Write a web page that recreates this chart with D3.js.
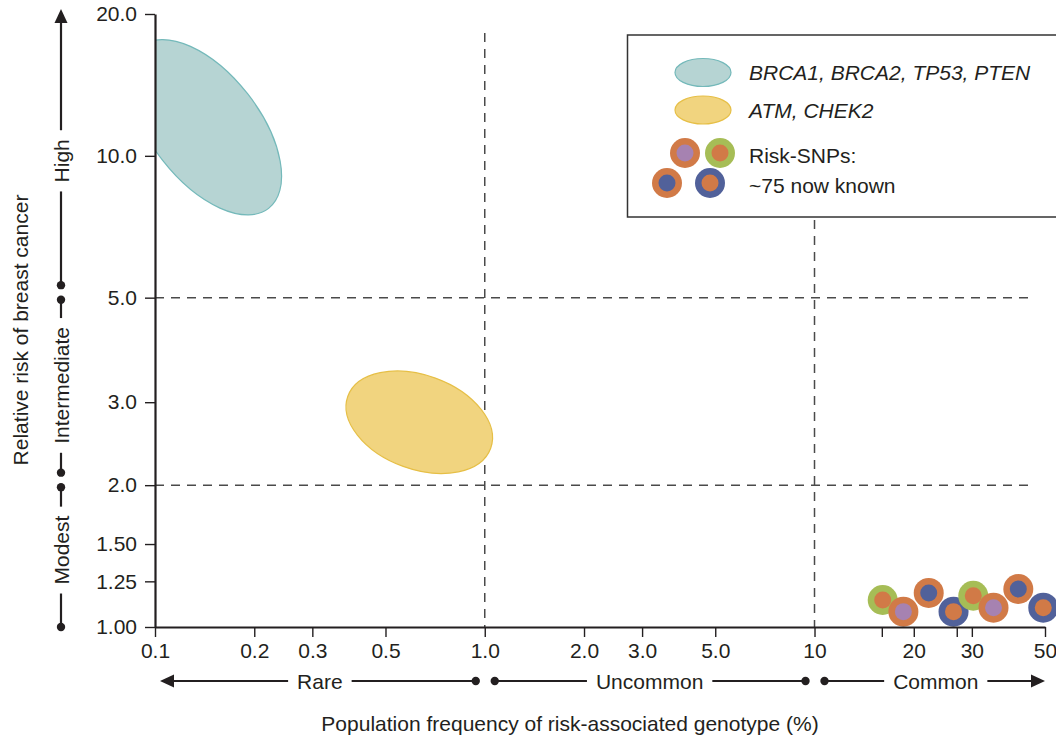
<!DOCTYPE html>
<html>
<head>
<meta charset="utf-8">
<script src="https://cdn.jsdelivr.net/npm/d3@7"></script>
<style>
  html, body { margin: 0; padding: 0; background: #fff; }
  svg { display: block; font-family: "Liberation Sans", Arial, Helvetica, sans-serif; }
</style>
</head>
<body>
<svg id="chart" width="1056" height="739"></svg>
<script>
// ---------------- DATA ----------------
const xTickValues = [0.1, 0.2, 0.3, 0.5, 1, 2, 3, 5, 10, 16, 20, 27, 30, 50];
const xTickLabels = ["0.1", "0.2", "0.3", "0.5", "1.0", "2.0", "3.0", "5.0", "10", "", "20", "", "30", "50"];
const yTickValues = [1, 1.25, 1.5, 2, 3, 5, 10, 20];
const yTickLabels = ["1.00", "1.25", "1.50", "2.0", "3.0", "5.0", "10.0", "20.0"];

const xTitle = "Population frequency of risk-associated genotype (%)";
const yTitle = "Relative risk of breast cancer";

// frequency categories (x) and risk categories (y)
const freqCategories = ["Rare", "Uncommon", "Common"];
const freqBounds = [[0.1, 1], [1, 10], [10, 50]];
const riskCategories = ["Modest", "Intermediate", "High"];
const riskBounds = [[1, 2], [2, 5], [5, 20]];

// gene groups (ellipse centres: frequency %, relative risk)
const geneGroups = ["BRCA1, BRCA2, TP53, PTEN", "ATM, CHEK2"];
const geneFreq = [0.142, 0.633];
const geneRisk = [11.5, 2.72];

// risk SNPs
const snpFreq = [16.1, 18.6, 22.2, 26.4, 30.3, 34.9, 41.5, 49.4];
const snpRisk = [1.141, 1.078, 1.181, 1.078, 1.165, 1.099, 1.204, 1.099];
const snpOuter = ["green", "orange", "orange", "blue", "green", "orange", "orange", "blue"];
const snpInner = ["orange", "purple", "blue", "orange", "orange", "purple", "blue", "orange"];

const snpLegendLines = ["Risk-SNPs:", "~75 now known"];
const snpLegendOuter = ["orange", "green", "orange", "blue"];
const snpLegendInner = ["purple", "orange", "blue", "orange"];

// ---------------- STYLE ----------------
const ink = "#231f20";
const palette = { orange: "#d17a47", purple: "#a682b1", green: "#a6bd56", blue: "#51619a" };
const geneFill = ["#b6d4d3", "#f1d47f"];
const geneStroke = ["#74b9ba", "#e6bf46"];
const geneShape = [ { rx: 103, ry: 54, rot: 52 }, { rx: 76, ry: 47, rot: 20 } ];
const fontSize = 21;

const svg = d3.select("#chart");

const x = d3.scaleLog().domain([0.1, 50]).range([155, 1045]);
const y = d3.scaleLog().domain([1, 20]).range([627, 14]);

// clip
svg.append("defs").append("clipPath").attr("id", "plotclip")
  .append("rect").attr("x", x(0.1)).attr("y", 0).attr("width", 1056 - x(0.1)).attr("height", y(1));

// ---------------- DASHED GRID ----------------
const grid = svg.append("g").attr("stroke", "#4a4a4a").attr("stroke-width", 1.5).attr("stroke-dasharray", "9,7");
grid.append("line").attr("x1", x(1)).attr("x2", x(1)).attr("y1", 33).attr("y2", y(1));
grid.append("line").attr("x1", x(10)).attr("x2", x(10)).attr("y1", 220).attr("y2", y(1));
[5, 2].forEach(v => {
  grid.append("line").attr("x1", x(0.1)).attr("x2", 1030).attr("y1", y(v)).attr("y2", y(v));
});

// ---------------- ELLIPSES ----------------
const eg = svg.append("g").attr("clip-path", "url(#plotclip)");
geneGroups.forEach((g, i) => {
  eg.append("ellipse")
    .attr("transform", `translate(${x(geneFreq[i])},${y(geneRisk[i])}) rotate(${geneShape[i].rot})`)
    .attr("rx", geneShape[i].rx).attr("ry", geneShape[i].ry)
    .attr("fill", geneFill[i]).attr("stroke", geneStroke[i]).attr("stroke-width", 1.2);
});

// ---------------- SNPs ----------------
const sg = svg.append("g");
snpFreq.forEach((f, i) => {
  const cx = x(f), cy = y(snpRisk[i]);
  sg.append("circle").attr("cx", cx).attr("cy", cy).attr("r", 15).attr("fill", palette[snpOuter[i]]);
  sg.append("circle").attr("cx", cx).attr("cy", cy).attr("r", 8.5).attr("fill", palette[snpInner[i]]);
});

// ---------------- AXES ----------------
const xAxis = d3.axisBottom(x).tickValues(xTickValues)
  .tickFormat((d, i) => xTickLabels[i]).tickSize(10).tickSizeOuter(0).tickPadding(6);
const yAxis = d3.axisLeft(y).tickValues(yTickValues)
  .tickFormat((d, i) => yTickLabels[i]).tickSize(10).tickSizeOuter(0).tickPadding(8);

const gx = svg.append("g").attr("transform", `translate(0,${y(1)})`).call(xAxis);
const gy = svg.append("g").attr("transform", `translate(${x(0.1)},0)`).call(yAxis);
[gx, gy].forEach(g => {
  g.select(".domain").attr("stroke", ink).attr("stroke-width", 2.2);
  g.selectAll(".tick line").attr("stroke", ink).attr("stroke-width", 1.4);
  g.selectAll(".tick text").attr("fill", ink).attr("font-size", fontSize).attr("font-family", "Liberation Sans, Arial, sans-serif");
});

// ---------------- CATEGORY ARROWS ----------------
const cat = svg.append("g").attr("stroke", ink).attr("fill", ink);
const dotR = 4.2, lw = 2.2;

// x categories
const ay = 681;
freqCategories.forEach((c, i) => {
  const [a, b] = freqBounds[i];
  const left = i === 0 ? x(a) + 12 : x(a) + 10;
  const right = i === 2 ? x(b) - 10 : x(b) - 9;
  const cx = x(Math.sqrt(a * b)) + (i === 2 ? 6 : 0);
  const t = cat.append("text").attr("x", cx).attr("y", ay).attr("dy", "0.36em")
    .attr("text-anchor", "middle").attr("stroke", "none").attr("font-size", fontSize).text(c);
  const w = t.node().getComputedTextLength();
  cat.append("line").attr("x1", left).attr("x2", cx - w / 2 - 9).attr("y1", ay).attr("y2", ay).attr("stroke-width", lw);
  cat.append("line").attr("x1", cx + w / 2 + 9).attr("x2", right).attr("y1", ay).attr("y2", ay).attr("stroke-width", lw);
  if (i === 0) {
    cat.append("path").attr("stroke", "none").attr("d", `M${x(a) + 5},${ay} l14,-6.5 l0,13 z`);
  } else {
    cat.append("circle").attr("cx", left).attr("cy", ay).attr("r", dotR).attr("stroke", "none");
  }
  if (i === 2) {
    cat.append("path").attr("stroke", "none").attr("d", `M${x(b)},${ay} l-14,-6.5 l0,13 z`);
  } else {
    cat.append("circle").attr("cx", right).attr("cy", ay).attr("r", dotR).attr("stroke", "none");
  }
});

// y categories
const ax = 61;
riskCategories.forEach((c, i) => {
  const [a, b] = riskBounds[i];
  const bottom = i === 0 ? y(a) : y(a) - 12.5;
  const top = i === 2 ? y(b) - 3 : y(b) + 2;
  const cy = y(Math.sqrt(a * b)) + (i === 2 ? 5 : -6);
  const t = cat.append("text").attr("transform", `translate(${ax},${cy}) rotate(-90)`)
    .attr("dy", "0.36em").attr("text-anchor", "middle").attr("stroke", "none")
    .attr("font-size", fontSize).text(c);
  const w = t.node().getComputedTextLength();
  cat.append("line").attr("x1", ax).attr("x2", ax).attr("y1", bottom).attr("y2", cy + w / 2 + 9).attr("stroke-width", lw);
  cat.append("line").attr("x1", ax).attr("x2", ax).attr("y1", cy - w / 2 - 9).attr("y2", i === 2 ? top + 8 : top).attr("stroke-width", lw);
  cat.append("circle").attr("cx", ax).attr("cy", bottom).attr("r", dotR).attr("stroke", "none");
  if (i === 2) {
    cat.append("path").attr("stroke", "none").attr("d", `M${ax},${top - 2} l-6.5,14 l13,0 z`);
  } else {
    cat.append("circle").attr("cx", ax).attr("cy", top).attr("r", dotR).attr("stroke", "none");
  }
});

// ---------------- TITLES ----------------
svg.append("text").attr("x", 570).attr("y", 731).attr("text-anchor", "middle")
  .attr("fill", ink).attr("font-size", fontSize).text(xTitle);
svg.append("text").attr("transform", "translate(28,330) rotate(-90)").attr("text-anchor", "middle")
  .attr("fill", ink).attr("font-size", fontSize).text(yTitle);

// ---------------- LEGEND ----------------
const lg = svg.append("g");
lg.append("rect").attr("x", 627.5).attr("y", 35).attr("width", 440).attr("height", 182)
  .attr("fill", "#fff").attr("stroke", "#333").attr("stroke-width", 1.5);
geneGroups.forEach((g, i) => {
  const cy = 72.5 + i * 37.5;
  lg.append("ellipse").attr("cx", 703).attr("cy", cy).attr("rx", 28).attr("ry", 14)
    .attr("fill", geneFill[i]).attr("stroke", geneStroke[i]).attr("stroke-width", 1.2);
  lg.append("text").attr("x", 749).attr("y", cy).attr("dy", "0.36em").attr("font-style", "italic")
    .attr("fill", ink).attr("font-size", fontSize).text(g);
});
const legPos = [[685, 153], [720, 153], [667, 183], [710, 183]];
legPos.forEach((p, i) => {
  lg.append("circle").attr("cx", p[0]).attr("cy", p[1]).attr("r", 15).attr("fill", palette[snpLegendOuter[i]]);
  lg.append("circle").attr("cx", p[0]).attr("cy", p[1]).attr("r", 8.5).attr("fill", palette[snpLegendInner[i]]);
});
snpLegendLines.forEach((t, i) => {
  lg.append("text").attr("x", 749).attr("y", 155 + i * 30).attr("dy", "0.36em")
    .attr("fill", ink).attr("font-size", fontSize).text(t);
});
</script>
</body>
</html>
